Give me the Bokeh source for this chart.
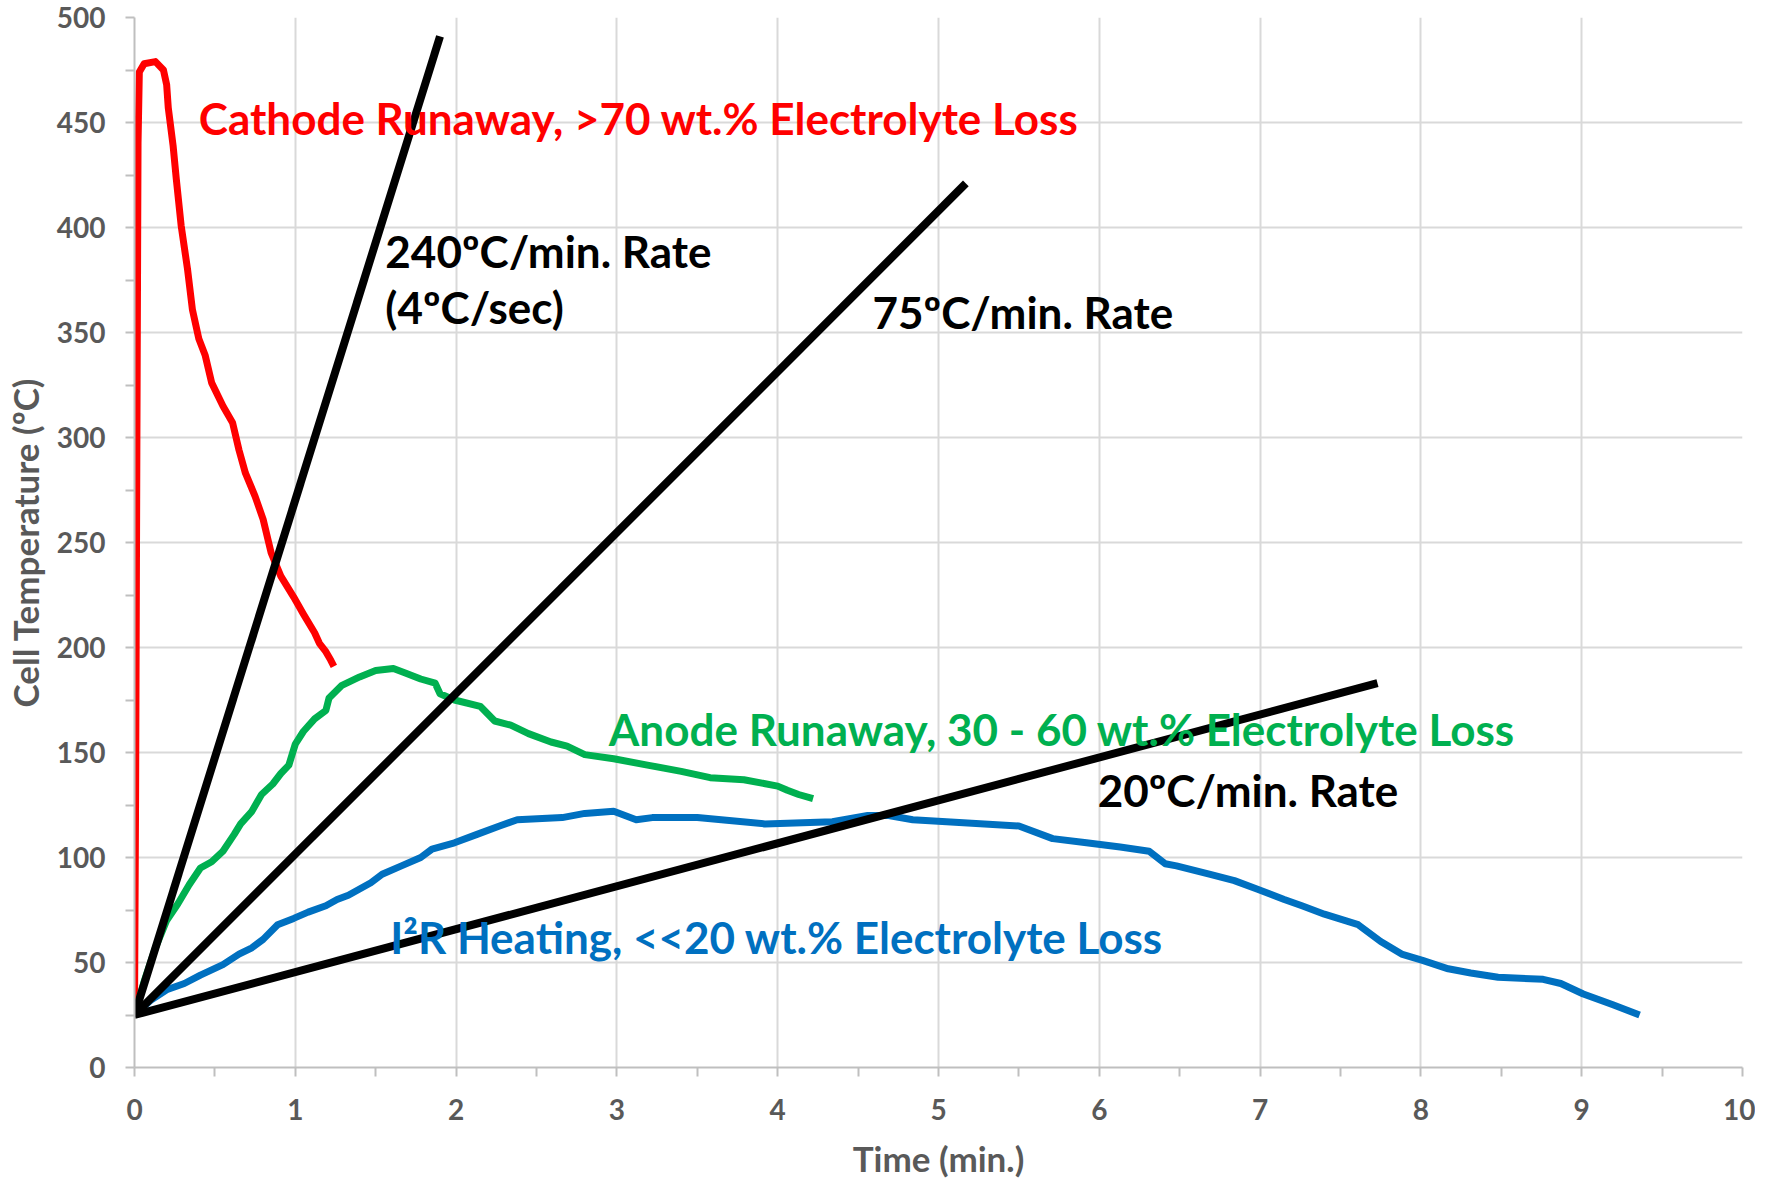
from bokeh.plotting import figure
from bokeh.models import Label, Range1d, FixedTicker
from bokeh.embed import file_html
from bokeh.resources import INLINE

# ---------------- data ----------------
cathode_t = [0.0, 0.007, 0.015, 0.022, 0.03, 0.06, 0.13, 0.18, 0.20, 0.21, 0.24, 0.26, 0.29, 0.33,
             0.36, 0.40, 0.44, 0.48, 0.55, 0.61, 0.65, 0.69, 0.75, 0.80, 0.85, 0.91, 0.99, 1.05,
             1.12, 1.15, 1.19, 1.22, 1.24]
cathode_T = [25, 132, 300, 440, 474, 478, 479, 475, 468, 457, 439, 423, 401, 380,
             361, 347, 339, 326, 315, 307, 294, 283, 272, 261, 245, 234, 224, 216,
             207, 202, 198, 194, 191]

anode_t = [0.0, 0.06, 0.13, 0.20, 0.27, 0.34, 0.41, 0.48, 0.55, 0.62, 0.66, 0.73, 0.79, 0.86,
           0.91, 0.96, 1.00, 1.05, 1.12, 1.19, 1.21, 1.29, 1.40, 1.50, 1.61, 1.68, 1.78, 1.87,
           1.90, 1.99, 2.15, 2.24, 2.34, 2.45, 2.59, 2.69, 2.80, 2.98, 3.19, 3.40, 3.58, 3.79,
           4.00, 4.06, 4.13, 4.22]
anode_T = [25, 41, 57, 70, 78, 87, 95, 98, 103, 111, 116, 122, 130, 135,
           140, 144, 154, 160, 166, 170, 176, 182, 186, 189, 190, 188, 185, 183,
           178, 175, 172, 165, 163, 159, 155, 153, 149, 147, 144, 141, 138, 137,
           134, 132, 130, 128]

i2r_t = [0.0, 0.10, 0.20, 0.31, 0.41, 0.55, 0.65, 0.73, 0.80, 0.89, 0.99, 1.08, 1.19, 1.26,
         1.33, 1.40, 1.47, 1.54, 1.66, 1.78, 1.85, 1.99, 2.13, 2.27, 2.38, 2.66, 2.80, 2.98,
         3.05, 3.12, 3.22, 3.50, 3.92, 4.34, 4.56, 4.69, 4.84, 5.05, 5.50, 5.71, 5.92, 6.13,
         6.31, 6.41, 6.48, 6.69, 6.84, 6.98, 7.15, 7.26, 7.40, 7.61, 7.75, 7.88, 8.01, 8.17,
         8.31, 8.48, 8.76, 8.87, 9.01, 9.19, 9.36]
i2r_T = [25, 32, 37, 40, 44, 49, 54, 57, 61, 68, 71, 74, 77, 80,
         82, 85, 88, 92, 96, 100, 104, 107, 111, 115, 118, 119, 121, 122,
         120, 118, 119, 119, 116, 117, 120, 120, 118, 117, 115, 109, 107, 105,
         103, 97, 96, 92, 89, 85, 80, 77, 73, 68, 60, 54, 51, 47,
         45, 43, 42, 40, 35, 30, 25]

# reference rate lines (start point, end point)
rate_start_t = 0.0
rate_start_T = 25
rate_end_t = [1.90, 5.17, 7.73]
rate_end_T = [491, 421, 183]

x_ticks = list(range(0, 11))
y_ticks = list(range(0, 501, 50))

SUP_O = "\u00ba"
label_texts = ["Cathode Runaway, >70 wt.% Electrolyte Loss",
               "240" + SUP_O + "C/min. Rate",
               "(4" + SUP_O + "C/sec)",
               "75" + SUP_O + "C/min. Rate",
               "Anode Runaway, 30 - 60 wt.% Electrolyte Loss",
               "20" + SUP_O + "C/min. Rate",
               "I\u00b2R Heating, <<20 wt.% Electrolyte Loss"]
label_x = [0.40, 1.56, 1.56, 4.59, 2.95, 5.99, 1.59]
label_y = [452, 389, 362, 360, 161, 132, 62]
label_colors = ["#FF0000", "#000000", "#000000", "#000000", "#00B050", "#000000", "#0070C0"]

FONT = "Lato"

p = figure(frame_width=1608, frame_height=1050, output_backend="svg", toolbar_location=None,
           x_range=Range1d(0, 10), y_range=Range1d(0, 500),
           min_border_left=132, min_border_right=13, min_border_top=17, min_border_bottom=95)
p.outline_line_color = None
p.background_fill_color = "white"

for ax in (p.xaxis[0], p.yaxis[0]):
    ax.axis_line_color = "#BFBFBF"
    ax.axis_line_width = 2
    ax.major_tick_line_color = "#BFBFBF"
    ax.minor_tick_line_color = "#BFBFBF"
    ax.major_tick_line_width = 2
    ax.minor_tick_line_width = 2
    ax.major_tick_out = 9
    ax.major_tick_in = 0
    ax.minor_tick_out = 9
    ax.minor_tick_in = 0
    ax.major_label_text_font = FONT
    ax.major_label_text_font_style = "bold"
    ax.major_label_text_color = "#595959"
    ax.major_label_text_font_size = "28px"
    ax.axis_label_text_font = FONT
    ax.axis_label_text_font_style = "bold"
    ax.axis_label_text_color = "#595959"
    ax.axis_label_text_font_size = "35px"

p.xaxis[0].ticker = FixedTicker(ticks=x_ticks, minor_ticks=[i + 0.5 for i in range(10)])
p.yaxis[0].ticker = FixedTicker(ticks=y_ticks, minor_ticks=[i * 50 + 25 for i in range(10)])
p.xaxis[0].major_label_standoff = 22
p.yaxis[0].major_label_standoff = 20
p.xaxis[0].axis_label = "Time (min.)"
p.yaxis[0].axis_label = "Cell Temperature (" + SUP_O + "C)"
p.xaxis[0].axis_label_standoff = 14
p.yaxis[0].axis_label_standoff = 8

for g in (p.xgrid[0], p.ygrid[0]):
    g.grid_line_color = "#D9D9D9"
    g.grid_line_width = 2
p.xgrid[0].ticker = FixedTicker(ticks=x_ticks)
p.ygrid[0].ticker = FixedTicker(ticks=y_ticks)

# curves
p.line(cathode_t, cathode_T, line_color="#FF0000", line_width=7, line_join="round")
p.line(anode_t, anode_T, line_color="#00B050", line_width=7, line_join="round")
p.line(i2r_t, i2r_T, line_color="#0070C0", line_width=7, line_join="round")

for et, eT in zip(rate_end_t, rate_end_T):
    p.line([rate_start_t, et], [rate_start_T, eT], line_color="#000000", line_width=8)

for txt, lx, ly, c in zip(label_texts, label_x, label_y, label_colors):
    p.add_layout(Label(x=lx, y=ly, text=txt, text_color=c, text_font=FONT,
                       text_font_style="bold", text_font_size="44px",
                       text_align="left", text_baseline="middle"))

open("out.html", "w").write(file_html(p, INLINE))
